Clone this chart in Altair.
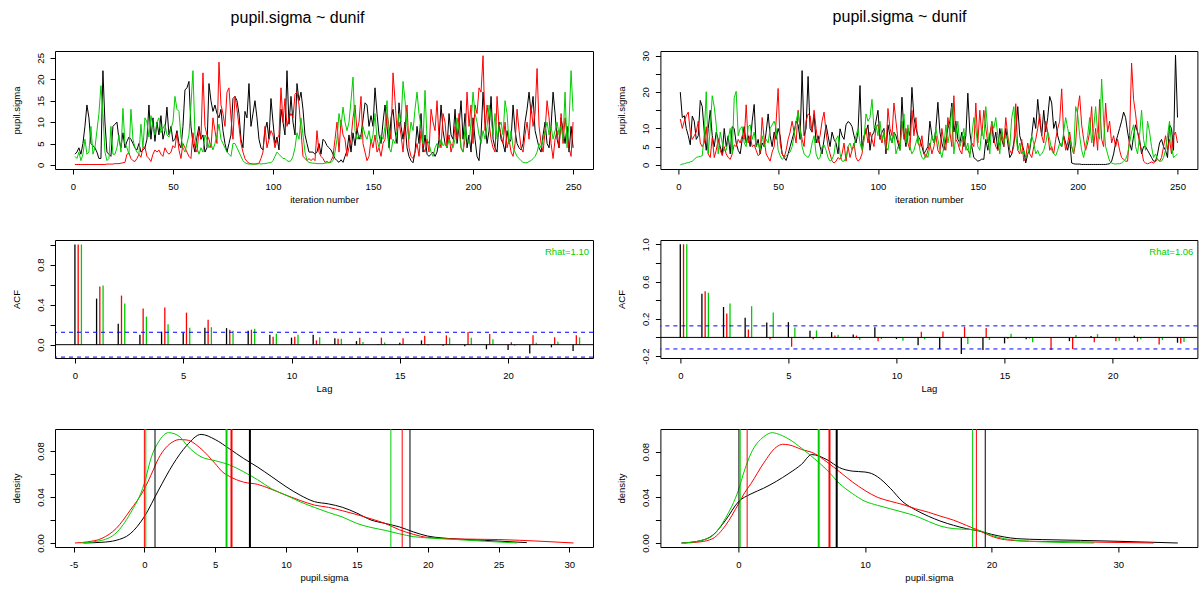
import altair as alt
import pandas as pd

FONT = "Liberation Sans"
CHAIN_COLORS = ["#000000", "#FF0000", "#00CD00"]
ACF_OFFSETS = [0.0, 0.15, 0.3]
QUANT_WIDTHS = [1, 2, 1]
TITLE = "pupil.sigma ~ dunif"

ITER = list(range(1, 251))
TRACE_XTICKS = [0, 50, 100, 150, 200, 250]
LAGS = list(range(0, 24))
ACF_XTICKS = [0, 5, 10, 15, 20]
CI = [0.124, -0.124]

# ---------------- trace values (left model) ----------------
L_B = [2.5, 3, 4, 2.5, 5, 9, 14, 11, 5, 4.5,
       4, 3, 1.5, 1.5, 22, 10, 3, 2.5, 2, 9,
       9.5, 10, 6, 4, 7.5, 4, 5.5, 6.5, 6, 5,
       4, 3.5, 5, 3, 3.5, 4, 6, 14, 6, 11,
       5.5, 10, 7, 11.5, 6, 8, 13.5, 7, 9, 5.5,
       6, 8, 5, 4, 9, 17.5, 18, 19.5, 9, 5,
       3, 6.5, 9, 6, 7, 3, 4, 19, 15, 12.5,
       14, 12, 11, 13, 8, 5, 3, 5, 7, 15.5,
       16, 15, 12, 6, 4, 12.5, 11, 19, 9, 12,
       15, 11, 6, 4, 3.5, 8, 10, 6, 15.5, 10,
       5, 6.5, 3.5, 13, 10, 7, 22, 9.5, 16, 10,
       7, 19, 15, 17, 13, 7, 5, 3, 3, 3,
       2.5, 3, 5, 2.5, 6, 5.5, 4.5, 4, 3.5, 2.5,
       1.5, 1, 0.6, 1.2, 0.6, 2, 3.3, 7, 3, 7.5,
       4.5, 8.5, 6, 7, 10.5, 14.5, 14, 9, 11.5, 9,
       18, 12, 7, 5, 10, 14, 9, 4, 11, 13,
       8, 5, 14.5, 9, 6, 10, 4, 2, 1, 0.5,
       3, 9, 5, 12, 3, 7, 2.5, 2, 2.5, 3,
       2, 3, 6, 14, 8, 5, 4, 12, 7, 6,
       13, 5, 9, 15, 6, 12, 4, 7, 3, 11,
       6, 2, 1, 7, 17, 10, 5, 8, 16, 6,
       4, 3, 10, 6, 5, 3, 8, 5, 6, 14,
       8, 5, 4, 3.5, 5, 10, 13, 17, 12, 16,
       8, 6, 4, 3, 7, 10, 5, 4, 9, 17,
       12, 6, 4, 11, 8, 5, 9, 3, 9, 4]
L_R = [0.1, 0.1, 0.1, 0.1, 0.1, 0.1, 0.1, 0.1, 0.1, 0.1,
       0.1, 0.1, 0.1, 0.1, 0.1, 0.1, 0.2, 0.2, 0.2, 0.2,
       0.3, 0.3, 0.3, 0.4, 0.5, 0.6, 2.5, 2.8, 1.5, 1,
       0.8, 1.5, 2.5, 1.8, 4, 4.2, 2, 1.5, 0.8, 2.5,
       3.5, 3, 3.5, 2.5, 2, 4, 3, 2.5, 3, 4.5,
       4, 7.5, 3.5, 1.5, 5, 4, 3, 2, 1.5, 7.5,
       4, 3, 8, 6, 21.5, 9, 7, 6, 4, 11,
       8, 5, 24, 14, 12, 9, 17, 18, 11, 6,
       16, 13, 9, 5, 3, 1.5, 0.8, 0.4, 0.3, 0.2,
       0.2, 0.3, 0.4, 1.5, 3, 9, 4, 6, 8, 7,
       4, 6, 7, 18, 10, 15.5, 9, 11, 12, 11,
       16.5, 17, 14, 8, 2, 1.5, 1, 1.5, 1, 1.5,
       1, 8, 3, 2, 1.5, 0.6, 0.8, 0.5, 1, 2,
       6, 10, 3, 10.5, 7, 6, 2, 4, 6, 11,
       14, 8, 10, 16, 5, 3, 1, 2, 6, 4,
       7, 3, 4, 2, 5, 6, 12, 9, 6, 21.5,
       15, 8, 10, 7, 3, 9, 14, 4, 2, 1.5,
       3, 5, 2, 8, 4, 3, 6, 3, 13, 10,
       8, 15, 6, 4, 12, 10, 4, 7, 3, 5,
       9, 6, 12, 4, 3, 6, 17, 9, 14, 5,
       14, 12, 18, 17, 25.5, 8, 14, 10, 6, 4,
       3, 16, 9, 7, 5, 10, 4, 6, 3, 2,
       5, 13, 8, 4, 3, 7, 10, 6, 14, 9,
       12, 22.5, 9, 5, 3, 8, 15, 11, 5, 1.5,
       6, 8, 4, 12, 5, 11, 7, 4, 2, 10]
L_G = [2, 1.5, 3, 1, 2.5, 6, 2.5, 3, 9, 2.5,
       4, 8, 12, 18.5, 12, 3, 1, 1.5, 9, 2.5,
       2.5, 4, 7, 3, 13.2, 5, 4, 2.5, 13, 6,
       4, 3, 2.5, 9.5, 4, 11, 10, 6.5, 11.5, 9,
       7, 10, 11, 7.5, 8.5, 9.5, 7, 6.5, 8.5, 10,
       16, 13, 12.5, 6.5, 4, 3, 5, 7, 14, 22,
       7, 4, 2.5, 4, 3, 7, 6, 4, 5, 3.5,
       5, 7, 9.5, 6, 5, 4, 3, 2.5, 2, 5,
       5, 4, 3, 2, 1, 0.5, 0.3, 0.2, 0.2, 0.2,
       0.2, 0.2, 0.3, 0.2, 0.3, 0.3, 0.4, 0.5, 0.5, 1,
       2, 3, 2.5, 2, 1.5, 1.5, 1, 0.8, 1, 2,
       4, 7.5, 6, 11, 7, 3, 1, 0.6, 0.5, 0.4,
       0.4, 0.3, 0.3, 0.3, 0.3, 0.4, 0.5, 0.5, 0.6, 1,
       3, 6, 12, 9, 13.5, 10, 8, 10, 15, 20.5,
       8, 6, 7, 6, 9, 7, 6, 8, 5, 7,
       12, 6, 4, 7, 6, 9, 15, 4, 3, 6,
       5, 8, 12, 10, 19.5, 15, 9, 6, 10, 8,
       13, 17, 12, 9, 5, 17.4, 6, 5, 3, 2,
       4, 5, 4, 6, 4.5, 5, 4, 6, 5, 4,
       6, 11, 8, 4, 3, 9, 6, 5, 10, 17,
       12, 10, 7, 5, 8, 6, 9, 14, 11, 7,
       12, 6, 9, 10, 7, 15, 12, 5, 8, 4,
       3, 2, 1.5, 1, 0.6, 0.5, 0.5, 0.8, 1, 1.5,
       2, 3, 5, 4, 6, 8, 10, 7, 9, 6,
       8, 10, 7, 9, 6, 17, 4, 10, 22, 12.5]

# ---------------- trace values (right model) ----------------
R_B = [20, 13, 13.5, 10, 8, 5.5, 13.4, 12, 7, 8,
       17.7, 16, 9, 4, 10, 15, 8, 5, 9, 7,
       5, 3, 10, 5, 8, 3, 10.5, 10, 6, 4,
       3, 7, 10.5, 6, 8, 5, 12, 16.6, 5, 7,
       3, 6, 5, 9, 14, 8, 5, 9, 7, 10,
       8, 3, 2, 1.2, 3, 5, 7, 9, 12, 11,
       7, 25.9, 8, 10, 24.3, 10, 9, 14, 6, 8,
       5, 3, 7, 11, 8, 5, 9, 7, 6, 3,
       9.9, 8, 7, 11, 11.9, 11.5, 10.5, 8, 6, 9,
       21.8, 4.5, 8, 9, 11, 4, 8, 9, 12, 15,
       7, 9, 10, 3, 11, 8, 6, 9, 8, 6,
       4, 18.6, 9, 5, 10, 8, 21.3, 13, 10, 8,
       7, 5, 3, 4, 5, 12, 8, 6, 10, 17.2,
       9, 6, 4, 7, 10, 12, 17, 9, 12, 7,
       6, 9, 5, 8, 19.7, 9, 5, 2, 1.5, 1,
       1.2, 1.6, 1.5, 7, 4, 8, 11, 6, 9, 4,
       10, 7, 5, 10, 6, 2, 3, 6, 9, 16,
       8, 6, 4, 0.5, 3, 4, 8, 13, 10, 18,
       12, 8, 15, 9, 13, 18.8, 17, 10, 12, 8,
       6, 5, 8, 6, 4, 7, 0.5, 0.3, 0.2, 0.2,
       0.2, 0.1, 0.1, 0.1, 0.1, 0.1, 0.1, 0.1, 0.1, 0.1,
       0.1, 0.1, 0.1, 0.1, 0.2, 0.3, 1, 3, 6, 8,
       10, 12, 14.5, 13, 9, 6, 4, 8, 11, 9,
       7, 3, 5, 5, 4, 3, 2, 1, 1, 3,
       6, 7, 5, 4, 2, 11, 10, 4, 30.2, 13]
R_R = [12.6, 10, 12, 13.5, 14.5, 9, 7, 8, 9, 12,
       6, 5, 6, 10.5, 3, 2, 7.5, 2, 4, 7,
       4, 2.5, 5, 3, 2, 1.5, 3, 5.5, 5, 7,
       6, 8, 7, 16.5, 6, 8, 5, 5.5, 4, 2.5,
       3, 13, 7, 3, 2, 1, 3.5, 5, 12, 21,
       6, 3, 2, 4, 7, 9, 12, 9, 6, 15,
       10, 7, 5, 12, 14, 13.5, 9, 15, 10, 6,
       8, 12, 14.5, 9, 5, 3, 1, 0.5, 1, 2,
       1.5, 3, 6, 1, 5, 2, 4, 6, 2, 1,
       1.5, 3, 7, 10, 6, 9, 7, 5, 10.5, 11,
       8, 6, 9, 4, 15.5, 10, 8, 17, 12, 7,
       5, 12, 7, 10, 6, 4, 15, 8, 13, 6,
       5, 8, 3, 2, 4, 6, 3, 5, 8, 4,
       3, 10, 6, 4, 13, 9, 5, 19, 7, 6,
       4, 3, 8, 5, 4, 3, 6, 5, 17, 6,
       15, 8, 15, 10, 6, 8, 12, 7, 5, 4,
       6, 9, 5, 13, 8, 4, 3, 5, 16.8, 4,
       3, 7, 1, 2, 6, 3, 2, 5, 7, 10,
       14, 8, 6, 12, 9, 4, 5, 3, 7, 10,
       12, 20.9, 8, 4, 6, 9, 5, 3, 6, 15,
       19, 11, 7, 4, 6, 9, 16, 5, 10, 4,
       18, 7, 5, 17, 9, 12, 6, 8, 5, 7,
       4, 2, 1.5, 1, 1, 8, 28, 18, 14, 9,
       6, 4, 1, 0.5, 0.3, 0.5, 0.8, 0.5, 1, 1.5,
       1, 2, 5, 8, 4, 7, 3, 8, 9, 6]
R_G = [0, 0.2, 0.3, 0.5, 0.6, 0.8, 1, 1.5, 2, 2.2,
       2.3, 2.5, 8.5, 20.1, 3, 10, 19, 16, 11, 3,
       9, 6, 4, 4, 7, 10, 3, 18.5, 20.2, 8,
       10, 10.5, 6, 5, 10.5, 11, 7, 9, 5, 6,
       4, 8, 5, 7, 6, 10, 11, 12, 10, 4,
       2.5, 1.5, 2, 2.5, 3, 3.5, 5, 8, 12, 14.5,
       10, 5, 3, 2.5, 2, 3, 6, 8, 3, 1.5,
       2, 5, 5.5, 4, 2, 1, 1.5, 3, 7, 8,
       3, 1, 1, 2, 5, 6, 4, 5, 8, 10,
       6, 4, 7, 14, 12, 13, 18, 10, 11, 8,
       12, 7, 9, 5, 4, 8, 6, 9, 3, 5,
       4, 10, 14, 6, 11, 5, 3, 4, 6, 8,
       4, 2, 1.5, 3, 2, 5, 8, 6, 10, 7,
       4, 2, 5, 11, 6, 9, 16, 3, 8, 12,
       5, 7, 10, 4, 6, 2, 8, 13, 10, 5,
       4, 10, 7, 16, 9, 3, 12, 10, 13, 8,
       3, 10, 6, 8, 7, 5, 13, 16, 8, 4,
       6, 3, 4, 2, 3, 5, 8, 6, 3, 4,
       2.5, 3, 4, 6, 9, 7, 4, 3, 2.5, 4,
       6, 5, 9, 13, 10, 7, 5, 3, 16, 14,
       8, 4, 2, 5, 8, 13, 6, 10, 16, 9,
       7, 23.6, 12, 5, 3, 1, 0.5, 0.3, 0.2, 0.3,
       0.3, 0.5, 1, 1.5, 3, 6, 9, 11, 5, 3,
       8, 15, 7, 4, 12, 9, 5, 2, 3, 1.5,
       1, 1, 2, 4, 8, 12, 5, 2, 2.5, 3]

for s in (L_B, L_R, L_G, R_B, R_R, R_G):
    assert len(s) == 250, len(s)

# ---------------- autocorrelations ----------------
L_ACF_B = [1, 0.46, 0.21, 0.10, 0.13, 0.12, 0.17, 0.165, 0.14, 0.10, 0.07, 0.10,
           0.063, 0.036, 0.007, 0.02, 0.043, -0.01, -0.016, -0.046, -0.053, -0.089, -0.026, -0.063]
L_ACF_R = [1, 0.58, 0.49, 0.36, 0.37, 0.32, 0.25, 0.15, 0.15, 0.08, 0.08, 0.043,
           0.06, 0.07, 0.07, 0.063, 0.09, 0.093, 0.126, 0.106, 0.023, 0.093, 0.073, 0.093]
L_ACF_G = [1, 0.59, 0.41, 0.28, 0.205, 0.17, 0.175, 0.14, 0.16, 0.11, 0.10, 0.073,
           0.06, 0.026, 0.023, 0.003, -0.007, 0.07, 0.07, 0.053, -0.01, 0.02, 0.03, 0.073]
R_ACF_B = [1, 0.47, 0.327, 0.21, 0.16, 0.164, 0.071, 0.057, 0.032, 0.11, -0.018, -0.085,
           -0.125, -0.178, -0.135, -0.064, -0.02, 0.0, -0.04, 0.014, -0.007, 0.018, -0.007, -0.057]
R_ACF_R = [1, 0.495, 0.256, 0.085, -0.02, -0.10, -0.02, 0.02, 0.02, -0.04, 0.004, 0.062,
           0.064, 0.114, 0.10, -0.014, -0.01, -0.135, -0.125, -0.053, -0.04, -0.046, -0.075, -0.064]
R_ACF_G = [1, 0.48, 0.363, 0.335, 0.267, 0.107, 0.075, 0.028, -0.028, -0.018, -0.036, -0.02,
           0.0, -0.07, -0.028, 0.04, -0.053, -0.007, 0.025, 0.036, -0.036, -0.02, -0.028, -0.05]
RHAT_L = "Rhat=1.10"
RHAT_R = "Rhat=1.06"

# ---------------- densities ----------------
LD_B_X = [-4.3, -3, -2, -1, 0, 1, 2, 3, 4, 5, 6, 7, 8, 9, 10, 11, 12, 13, 14, 15, 16, 17, 18, 19, 20, 21, 22, 24, 27]
LD_B_Y = [0, 0.0006, 0.0023, 0.008, 0.023, 0.046, 0.068, 0.085, 0.0945, 0.09, 0.082, 0.0736, 0.066, 0.0576,
          0.049, 0.0416, 0.036, 0.034, 0.031, 0.026, 0.02, 0.017, 0.014, 0.0096, 0.006, 0.0044, 0.0035, 0.0023, 0.0003]
LD_R_X = [-4.9, -4, -3, -2, -1, 0, 0.5, 1, 2, 2.5, 3, 4, 5, 5.5, 6, 7, 8, 9, 10, 11, 12, 13, 14, 15, 16, 17, 18,
          19, 20, 22, 25, 28, 30.3]
LD_R_Y = [0, 0.001, 0.004, 0.0125, 0.0285, 0.047, 0.06, 0.0736, 0.088, 0.09, 0.0896, 0.082, 0.069, 0.062, 0.058,
          0.053, 0.051, 0.0466, 0.0416, 0.037, 0.033, 0.031, 0.028, 0.0247, 0.021, 0.017, 0.0115, 0.0075, 0.0048,
          0.0035, 0.003, 0.0015, 0]
LD_G_X = [-4.5, -3, -2, -1, 0, 0.5, 1, 1.7, 2.5, 3, 4, 5, 6, 7, 8, 9, 10, 11, 12, 13, 14, 15, 16, 17, 18, 19, 20,
          22, 24, 26.3]
LD_G_Y = [0, 0.0023, 0.0087, 0.0256, 0.052, 0.075, 0.088, 0.096, 0.0925, 0.085, 0.075, 0.0716, 0.068, 0.062,
          0.055, 0.047, 0.0416, 0.0358, 0.031, 0.0265, 0.0225, 0.017, 0.0135, 0.011, 0.008, 0.0055, 0.0044, 0.003,
          0.0015, 0]
RD_B_X = [-4.5, -3, -2, -1, 0, 1, 2, 3, 4, 5, 5.8, 7, 8, 9, 10, 10.5, 11, 12, 13, 14, 15, 16, 17, 18, 19, 20, 21,
          22, 24, 27, 30, 34.7]
RD_B_Y = [0, 0.002, 0.007, 0.02, 0.036, 0.043, 0.048, 0.054, 0.061, 0.069, 0.0775, 0.073, 0.066, 0.063, 0.0622,
          0.061, 0.058, 0.048, 0.036, 0.029, 0.0235, 0.019, 0.0155, 0.0126, 0.0105, 0.0076, 0.0053, 0.0038, 0.003,
          0.0023, 0.0015, 0]
RD_R_X = [-4.3, -3, -2, -1, 0, 0.5, 1, 2, 3, 3.5, 4, 5, 6, 7, 8, 9, 10, 11, 12, 13, 14, 15, 16, 17, 18, 19, 20,
          21, 23, 27, 32.8]
RD_R_Y = [0, 0.001, 0.004, 0.0155, 0.034, 0.044, 0.052, 0.07, 0.084, 0.0865, 0.086, 0.082, 0.0785, 0.071, 0.0624,
          0.0536, 0.046, 0.04, 0.0366, 0.0337, 0.030, 0.027, 0.0234, 0.02, 0.0155, 0.011, 0.0059, 0.003, 0.0015,
          0.001, 0]
RD_G_X = [-4.4, -3, -2, -1, 0, 0.5, 1, 2, 2.7, 3, 4, 5, 6, 7, 8, 9, 10, 11, 12, 13, 14, 15, 16, 17, 18, 19, 20,
          21, 22, 24, 28.1]
RD_G_Y = [0, 0.002, 0.0067, 0.022, 0.046, 0.064, 0.0785, 0.093, 0.0967, 0.096, 0.091, 0.083, 0.074, 0.064, 0.052,
          0.0434, 0.0366, 0.033, 0.030, 0.027, 0.0237, 0.019, 0.0147, 0.0126, 0.012, 0.011, 0.0067, 0.0038,
          0.0023, 0.001, 0]
# 2.5%, 50%, 97.5% quantiles per chain
LQ = [[0.75, 7.45, 18.75], [0.0, 6.15, 18.2], [0.1, 5.8, 17.4]]
RQ = [[0.05, 7.77, 19.5], [0.7, 7.2, 18.8], [0.15, 6.35, 18.5]]

# ---------------- layout constants ----------------
W_L, W_R, H = 538, 537, 118
TRACE_XDOM = [-8.96, 259.96]
ACF_XDOM = [-0.92, 23.92]
MINUS = "replace(datum.label, '\u2212', '-')"
AX = dict(labelOverlap=False, tickCount=100)


def label_expr(hidden=None):
    if hidden:
        cond = " || ".join("abs(datum.value - (%s)) < 1e-6" % h for h in hidden)
        return "(%s) ? '' : %s" % (cond, MINUS)
    return MINUS


def trace_panel(chains, ydom, yticks, yhide, width, title_dx):
    x = alt.X("iteration:Q", scale=alt.Scale(domain=TRACE_XDOM, nice=False, zero=False),
              axis=alt.Axis(values=TRACE_XTICKS, title="iteration number", format="d", **AX))
    y = alt.Y("value:Q", scale=alt.Scale(domain=ydom, nice=False, zero=False),
              axis=alt.Axis(values=yticks, title="pupil.sigma", format="d", labelExpr=label_expr(yhide), **AX))
    layers = []
    for vals, col in zip(chains, CHAIN_COLORS):
        df = pd.DataFrame({"iteration": ITER, "value": vals})
        layers.append(alt.Chart(df).mark_line(color=col, strokeWidth=1, clip=True).encode(x=x, y=y))
    return alt.layer(*layers).properties(
        width=width, height=H,
        title=alt.TitleParams(TITLE, font=FONT, fontSize=16, fontWeight="normal", color="black",
                              anchor="middle", frame="group", dx=title_dx, offset=25))


def acf_panel(acfs, ydom, yticks, yhide, width, rhat):
    rows = []
    for ci, (vals, off) in enumerate(zip(acfs, ACF_OFFSETS)):
        for lag, v in zip(LAGS, vals):
            rows.append({"chain": str(ci + 1), "lag": lag + off, "acf": v, "base": 0.0})
    df = pd.DataFrame(rows)
    x = alt.X("lag:Q", scale=alt.Scale(domain=ACF_XDOM, nice=False, zero=False),
              axis=alt.Axis(values=ACF_XTICKS, title="Lag", format="d", **AX))
    y = alt.Y("acf:Q", scale=alt.Scale(domain=ydom, nice=False, zero=False),
              axis=alt.Axis(values=yticks, title="ACF", format=".1f", labelExpr=label_expr(yhide), **AX))
    bars = alt.Chart(df).mark_rule(strokeWidth=1.3).encode(
        x=x, y=y, y2="base:Q",
        color=alt.Color("chain:N", scale=alt.Scale(domain=["1", "2", "3"], range=CHAIN_COLORS), legend=None))
    zero = alt.Chart(pd.DataFrame({"acf": [0.0]})).mark_rule(color="black", strokeWidth=1).encode(y=y)
    ci = alt.Chart(pd.DataFrame({"acf": CI})).mark_rule(color="#0000FF", strokeWidth=1,
                                                        strokeDash=[4, 4]).encode(y=y)
    txt = alt.Chart(pd.DataFrame({"t": [rhat]})).mark_text(
        align="right", baseline="middle", color="#00CD00", font=FONT, fontSize=9.5, dx=-4, dy=12
    ).encode(x=alt.datum(ACF_XDOM[1]), y=alt.datum(ydom[1]), text="t:N")
    return alt.layer(bars, zero, ci, txt).properties(width=width, height=H)


def dens_panel(curves, quants, xdom, xticks, ydom, width):
    x = alt.X("x:Q", scale=alt.Scale(domain=xdom, nice=False, zero=False),
              axis=alt.Axis(values=xticks, title="pupil.sigma", format="d", labelExpr=label_expr(), **AX))
    y = alt.Y("density:Q", scale=alt.Scale(domain=ydom, nice=False, zero=False),
              axis=alt.Axis(values=[0, 0.02, 0.04, 0.06, 0.08], title="density", format=".2f",
                            labelExpr=label_expr([0.02, 0.06]), **AX))
    layers = []
    for (xs, ys), col in zip(curves, CHAIN_COLORS):
        df = pd.DataFrame({"x": xs, "density": ys})
        layers.append(alt.Chart(df).mark_line(color=col, strokeWidth=1, interpolate="monotone",
                                              clip=True).encode(x=x, y=y))
    for q, col in zip(quants, CHAIN_COLORS):
        df = pd.DataFrame({"x": q, "w": QUANT_WIDTHS})
        layers.append(alt.Chart(df).mark_rule(color=col).encode(
            x=x, strokeWidth=alt.StrokeWidth("w:Q", scale=None)))
    return alt.layer(*layers).properties(width=width, height=H)


tL = trace_panel([L_B, L_R, L_G], [-0.95, 26.6], [0, 5, 10, 15, 20, 25], None, W_L, -26.5)
tR = trace_panel([R_B, R_R, R_G], [-1.15, 31.3], [0, 5, 10, 15, 20, 25, 30], [15, 25], W_R, -29.4)
aL = acf_panel([L_ACF_B, L_ACF_R, L_ACF_G], [-0.133, 1.045], [0, 0.2, 0.4, 0.6, 0.8, 1.0],
               [0.2, 0.6, 1.0], W_L, RHAT_L)
aR = acf_panel([R_ACF_B, R_ACF_R, R_ACF_G], [-0.221, 1.046], [-0.2, 0, 0.2, 0.4, 0.6, 0.8, 1.0],
               [0, 0.4, 0.8], W_R, RHAT_R)
dL = dens_panel([(LD_B_X, LD_B_Y), (LD_R_X, LD_R_Y), (LD_G_X, LD_G_Y)], LQ, [-6.31, 31.67],
                [-5, 0, 5, 10, 15, 20, 25, 30], [-0.0035, 0.0992], W_L)
dR = dens_panel([(RD_B_X, RD_B_Y), (RD_R_X, RD_R_Y), (RD_G_X, RD_G_Y)], RQ, [-6.15, 36.25],
                [0, 10, 20, 30], [-0.0035, 0.0999], W_R)

chart = alt.concat(
    tL, tR, aL, aR, dL, dR, columns=2, spacing={"row": 71, "column": 67.4}, bounds="flush"
).properties(
    padding={"left": 10, "top": 8, "right": 0, "bottom": 4}, background="white"
).configure_view(
    stroke="black", strokeWidth=1
).configure_axis(
    labelFont=FONT, labelFontSize=9.5, labelColor="black", titleFont=FONT, titleFontSize=9.5,
    titleFontWeight="normal", titleColor="black", tickColor="black", tickSize=5, tickWidth=1,
    domain=False, grid=False, labelFlush=False, labelOverlap=False
).configure_axisLeft(
    labelAngle=270, labelAlign="center", labelBaseline="bottom", labelPadding=5,
    titleX=-39, titleY=59, titleBaseline="middle", titleAlign="center"
).configure_axisBottom(
    labelPadding=7, titleY=30, titleBaseline="middle"
)

chart.save("out.html", embed_options={"renderer": "svg", "actions": False})
